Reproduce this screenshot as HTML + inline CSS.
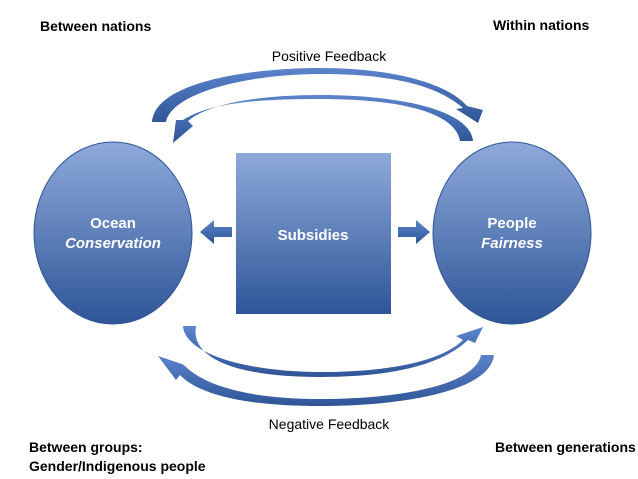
<!DOCTYPE html>
<html><head><style>body{margin:0;background:#fff}svg{display:block}</style></head><body>
<svg width="638" height="479" xmlns="http://www.w3.org/2000/svg" font-family="Liberation Sans, sans-serif">
<defs>
<linearGradient id="g" x1="0" y1="0" x2="0" y2="1"><stop offset="0" stop-color="#8eaadb"/><stop offset="1" stop-color="#2f5597"/></linearGradient>
<linearGradient id="a" x1="0" y1="0" x2="0" y2="1"><stop offset="0" stop-color="#5b84cc"/><stop offset="1" stop-color="#2f5597"/></linearGradient>
</defs>
<ellipse cx="113" cy="233" rx="79" ry="91" fill="url(#g)" stroke="#2f5597" stroke-width="1"/>
<ellipse cx="512" cy="233" rx="79" ry="91" fill="url(#g)" stroke="#2f5597" stroke-width="1"/>
<rect x="236" y="153" width="155" height="161" fill="url(#g)"/>
<path d="M232,227 L214,227 L214,220 L200,232 L214,244 L214,237 L232,237 Z" fill="url(#a)"/>
<path d="M398,227 L416,227 L416,220 L430,232 L416,244 L416,237 L398,237 Z" fill="url(#a)"/>
<path d="M152,122 C155,82 250,68 320,68 C400,68 450,86 467,106 L483,110 L478,123 L456,109 L463,108 C440,88 400,74 320,74 C250,74 172,92 166,122 Z" fill="url(#a)"/>
<path d="M473,141 C470,110 400,95 320,95 C250,95 205,106 188,121 L193,126 L173,143 L176,120 L183,120 C210,103 255,99 320,99 C400,99 455,112 460,141 Z" fill="url(#a)"/>
<path d="M183,326 C185,355 250,372 320,372 C400,372 445,358 463,340 L456,336 L483,327 L475,343 L468,340 C445,362 400,377 320,377 C240,377 190,360 196,326 Z" fill="url(#a)"/>
<path d="M494,355 C490,392 400,406 320,406 C250,406 200,396 180,375 L176,380 L158,356 L182,364 L185,366 C205,386 250,399 320,399 C400,399 475,385 481,355 Z" fill="url(#a)"/>
<g fill="#fff" font-size="15" text-anchor="middle" font-weight="bold">
<text x="113" y="228">Ocean</text><text x="113" y="248" font-style="italic">Conservation</text>
<text x="313" y="240">Subsidies</text>
<text x="512" y="228">People</text><text x="512" y="248" font-style="italic">Fairness</text>
</g>
<g font-size="14" fill="#000">
<text x="329" y="61" text-anchor="middle">Positive Feedback</text>
<text x="329" y="429" text-anchor="middle">Negative Feedback</text>
<g font-weight="bold">
<text x="40" y="31">Between nations</text>
<text x="493" y="30">Within nations</text>
<text x="29" y="452">Between groups:</text>
<text x="29" y="471">Gender/Indigenous people</text>
<text x="495" y="452">Between generations</text>
</g></g>
</svg>
</body></html>
